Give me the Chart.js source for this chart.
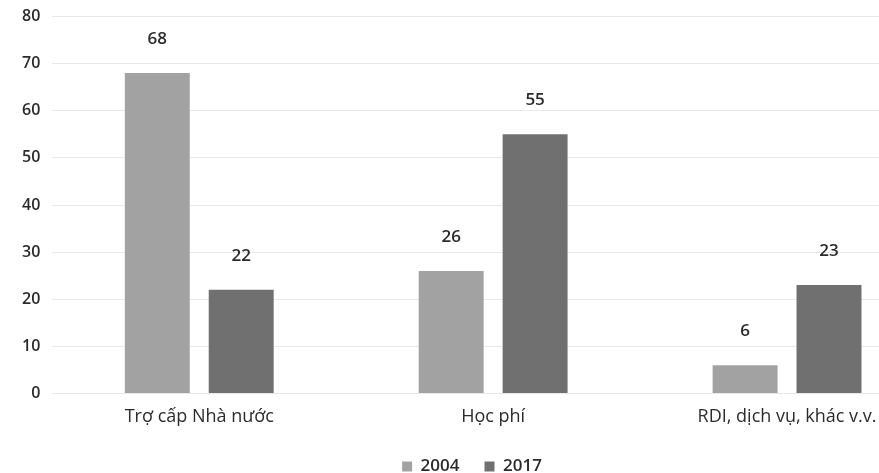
<!DOCTYPE html>
<html><head><meta charset="utf-8">
<script src="https://cdn.jsdelivr.net/npm/chart.js@4"></script>
<style>
html,body{margin:0;padding:0;background:#fff;overflow:hidden;width:879px;height:473px;position:relative}
#wrap{position:absolute;left:0;top:-5px;width:940px;height:478px}
</style></head><body>
<div id="wrap"><canvas id="c"></canvas></div>
<script>
const categories = ["Trợ cấp Nhà nước", "Học phí", "RDI, dịch vụ, khác v.v."];
const series2004 = [68, 26, 6];
const series2017 = [22, 55, 23];
const yTicks = [0, 10, 20, 30, 40, 50, 60, 70, 80];

const labelPlugin = {
  id: 'vlabels',
  afterDatasetsDraw(chart) {
    const ctx = chart.ctx;
    ctx.save();
    ctx.font = '600 17px "Open Sans"';
    ctx.fillStyle = '#2b2b2b';
    ctx.textAlign = 'center';
    ctx.textBaseline = 'middle';
    chart.data.datasets.forEach((ds, i) => {
      chart.getDatasetMeta(i).data.forEach((bar, j) => {
        ctx.fillText(String(ds.data[j]), bar.x, bar.y - 34);
      });
    });
    ctx.restore();
  }
};

new Chart(document.getElementById('c'), {
  type: 'bar',
  data: {
    labels: categories,
    datasets: [
      { label: '2004', data: series2004, backgroundColor: '#a2a2a2', categoryPercentage: 0.571, barPercentage: 0.774 },
      { label: '2017', data: series2017, backgroundColor: '#707070', categoryPercentage: 0.571, barPercentage: 0.774 }
    ]
  },
  options: {
    responsive: true,
    maintainAspectRatio: false,
    animation: false,
    layout: { padding: { top: 0, left: 10, right: 6, bottom: -12 } },
    plugins: {
      legend: {
        position: 'bottom',
        labels: {
          boxWidth: 10, boxHeight: 10, padding: 25,
          color: '#2b2b2b',
          font: { family: '"Open Sans"', size: 17, weight: '600' }
        }
      },
      tooltip: { enabled: false }
    },
    scales: {
      x: {
        grid: { display: false },
        border: { display: false },
        ticks: { color: '#2b2b2b', font: { family: '"Open Sans"', size: 18 }, padding: 5 }
      },
      y: {
        min: 0, max: 80,
        afterBuildTicks(axis) { axis.ticks = yTicks.map(v => ({ value: v })); },
        grid: { color: '#e8e8e8', drawTicks: false },
        border: { display: false },
        ticks: { color: '#2b2b2b', font: { family: '"Open Sans"', size: 16, weight: '600' }, padding: 12 }
      }
    }
  },
  plugins: [labelPlugin]
});
</script>
</body></html>
